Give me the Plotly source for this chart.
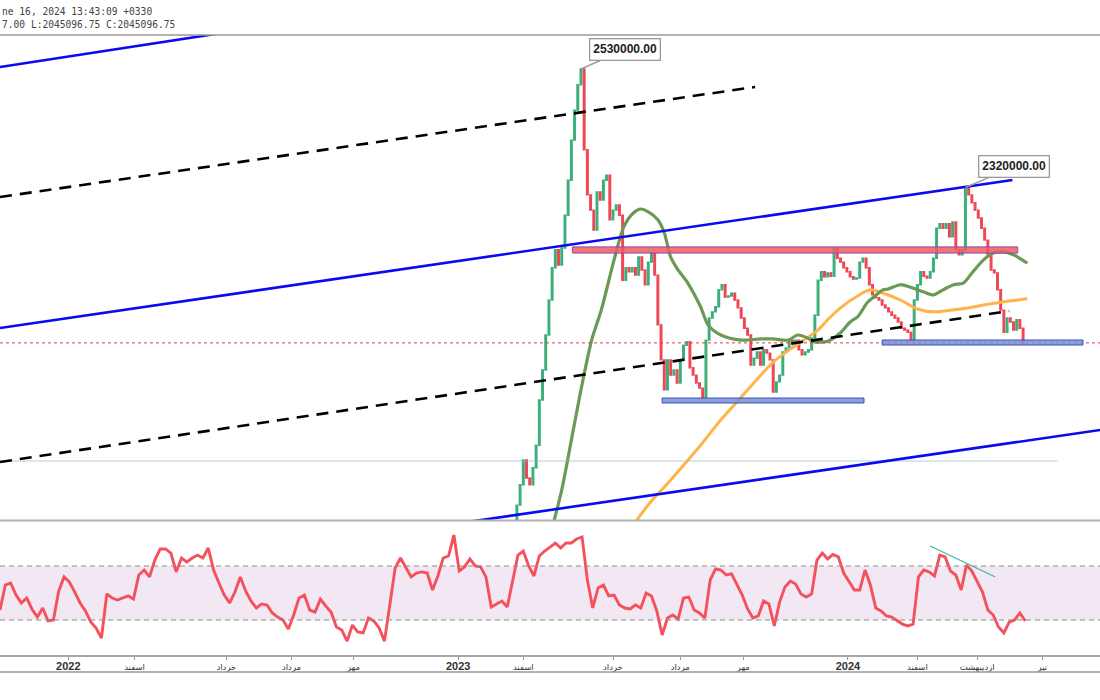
import pandas as pd
import plotly.graph_objects as go

# ---------------- data ----------------
candle_start = "2023-02-25"          # one bar every 3 days
first_open = 1720000
closes = [
    1758000, 1794000, 1838000, 1806000, 1794000, 1824000, 1864000, 1944000, 1997000, 2059000,
    2121000, 2178000, 2210000, 2183000, 2213000, 2271000, 2333000, 2404000, 2457000, 2502000,
    2530000, 2387000, 2307000, 2280000, 2245000, 2312000, 2298000, 2333000, 2342000, 2263000,
    2280000, 2289000, 2271000, 2156000, 2178000, 2171000, 2178000, 2165000, 2197000, 2174000,
    2148000, 2188000, 2204000, 2165000, 2077000, 2015000, 1962000, 2015000, 1988000, 1997000,
    1974000, 2015000, 2041000, 2047000, 2001000, 1988000, 1974000, 1965000, 1948000, 2050000,
    2089000, 2100000, 2109000, 2139000, 2148000, 2126000, 2128000, 2133000, 2121000, 2107000,
    2089000, 2071000, 2059000, 2006000, 2018000, 2029000, 2006000, 2033000, 2027000, 2015000,
    1958000, 1976000, 1988000, 2029000, 2036000, 2050000, 2047000, 2050000, 2033000, 2024000,
    2029000, 2033000, 2054000, 2094000, 2156000, 2171000, 2162000, 2169000, 2163000, 2213000,
    2195000, 2188000, 2178000, 2171000, 2162000, 2158000, 2160000, 2188000, 2195000, 2178000,
    2148000, 2130000, 2125000, 2121000, 2112000, 2107000, 2100000, 2094000, 2089000, 2082000,
    2071000, 2068000, 2064000, 2050000, 2121000, 2148000, 2171000, 2163000, 2160000, 2171000,
    2195000, 2248000, 2256000, 2248000, 2256000, 2233000, 2259000, 2210000, 2201000, 2210000,
    2320000, 2307000, 2293000, 2280000, 2266000, 2248000, 2227000, 2201000, 2174000, 2169000,
    2139000, 2103000, 2064000, 2089000, 2082000, 2068000, 2086000, 2071000, 2045096.75,
]

ma_green_dates = [
    "2023-03-27", "2023-04-08", "2023-04-17", "2023-04-26", "2023-05-06", "2023-05-15", "2023-05-27",
    "2023-06-05", "2023-06-14", "2023-06-21", "2023-06-28", "2023-07-07", "2023-07-13", "2023-07-19",
    "2023-07-26", "2023-08-04", "2023-08-16", "2023-08-23", "2023-09-04", "2023-09-23", "2023-10-11",
    "2023-10-23", "2023-11-06", "2023-11-15", "2023-11-24", "2023-11-30", "2023-12-13", "2023-12-25",
    "2024-01-03", "2024-01-10", "2024-01-19", "2024-01-25", "2024-02-03", "2024-02-07", "2024-02-19",
    "2024-02-28", "2024-03-12", "2024-03-21", "2024-03-30", "2024-04-09", "2024-04-18", "2024-04-27",
    "2024-05-07", "2024-05-16", "2024-05-25", "2024-06-04", "2024-06-17",
]
ma_green_vals = [
    1696000, 1785000, 1873000, 1962000, 2050000, 2103000, 2192000,
    2250000, 2275000, 2282000, 2277000, 2263000, 2240000, 2197000,
    2174000, 2151000, 2109000, 2077000, 2059000, 2050000, 2052000,
    2052000, 2050000, 2059000, 2054000, 2047000, 2048000, 2063000,
    2082000, 2091000, 2116000, 2126000, 2139000, 2140000, 2148000,
    2144000, 2135000, 2130000, 2139000, 2148000, 2151000, 2171000,
    2192000, 2204000, 2206000, 2201000, 2186000,
]

ma_orange_dates = [
    "2023-06-14", "2023-06-30", "2023-07-15", "2023-07-29", "2023-08-16", "2023-09-04", "2023-09-23",
    "2023-10-09", "2023-10-23", "2023-11-08", "2023-11-24", "2023-12-04", "2023-12-13", "2023-12-25",
    "2024-01-10", "2024-01-22", "2024-02-03", "2024-02-19", "2024-03-06", "2024-03-21", "2024-04-06",
    "2024-04-22", "2024-05-07", "2024-05-23", "2024-06-08", "2024-06-17",
]
ma_orange_vals = [
    1723000, 1763000, 1794000, 1824000, 1864000, 1909000, 1949000,
    1983000, 2011000, 2034000, 2054000, 2068000, 2086000, 2107000,
    2128000, 2139000, 2133000, 2121000, 2105000, 2100000, 2103000,
    2107000, 2112000, 2117000, 2121000, 2123000,
]

rsi_start = "2021-10-29"             # one value every 5 days
rsi_vals = [
    37.4, 55.9, 57.4, 48.5, 42.6, 46.3, 38.0, 32.2, 38.9, 29.3,
    30.0, 51.5, 61.9, 58.1, 50.7, 42.6, 36.7, 28.5, 24.1, 16.7,
    49.3, 46.3, 44.8, 46.3, 47.8, 45.5, 63.3, 67.0, 61.9, 74.4,
    82.6, 82.6, 79.6, 65.6, 75.9, 73.0, 75.9, 78.1, 75.9, 83.3,
    67.0, 57.4, 48.5, 42.6, 50.7, 61.9, 51.5, 44.1, 38.9, 41.9,
    41.1, 35.2, 32.2, 30.0, 23.3, 33.7, 46.3, 48.5, 37.4, 35.9,
    45.5, 40.4, 35.9, 24.8, 22.6, 14.4, 26.3, 21.1, 20.4, 31.5,
    29.3, 24.1, 14.4, 41.1, 68.5, 75.9, 68.5, 61.9, 64.8, 65.6,
    64.8, 52.2, 62.6, 75.9, 77.4, 92.9, 66.3, 69.3, 75.2, 70.0,
    69.3, 61.9, 39.6, 41.9, 44.1, 39.6, 59.6, 78.1, 81.1, 70.0,
    62.6, 77.4, 81.1, 84.1, 87.0, 83.3, 87.0, 87.0, 90.0, 91.5,
    59.6, 38.9, 53.7, 55.9, 47.8, 48.5, 41.1, 38.9, 38.2, 41.1,
    38.9, 50.0, 47.8, 36.7, 18.9, 31.5, 33.7, 30.7, 46.3, 47.0,
    37.4, 35.2, 31.5, 59.6, 67.8, 67.0, 63.3, 64.1, 55.9, 48.5,
    38.2, 31.5, 33.0, 44.1, 41.9, 25.6, 43.3, 54.4, 58.9, 56.7,
    49.3, 47.0, 49.3, 74.4, 79.6, 75.2, 78.5, 76.7, 64.8, 58.9,
    52.2, 52.2, 67.0, 55.9, 38.9, 36.7, 33.0, 32.2, 29.3, 27.0,
    25.6, 27.0, 61.9, 67.0, 65.6, 62.6, 78.1, 76.7, 66.3, 63.3,
    52.2, 70.7, 66.3, 58.1, 50.7, 37.4, 33.7, 24.8, 20.4, 28.5,
    30.0, 35.2, 29.3,
]
rsi_upper, rsi_lower = 70, 30

# channel drawing (blue solid lines)
blue_x0 = ["2021-10-29", "2021-10-29", "2021-10-29"]
blue_y0 = [2533400, 2071400, 1607700]
blue_x1 = ["2022-11-08", "2024-06-03", "2024-08-24"]
blue_y1 = [2642000, 2333400, 1890900]
# channel quarter lines (black dashed)
dash_x0 = ["2021-10-29", "2021-10-29"]
dash_y0 = [2303300, 1834300]
dash_x1 = ["2023-10-06", "2024-05-31"]
dash_y1 = [2498000, 2101500]
# horizontal level
level_price = 1836000
level_x0, level_x1 = "2021-10-29", "2024-07-15"
# zones
zone_x0 = ["2023-04-18", "2023-07-11", "2024-02-02"]
zone_x1 = ["2024-06-08", "2024-01-16", "2024-08-08"]
zone_lo = [2204000, 1938700, 2041300]
zone_hi = [2215000, 1947500, 2050200]
# RSI trend line
rsi_tl_x = ["2024-03-18", "2024-05-18"]
rsi_tl_y = [84.8, 61.9]
# peak labels
peak_dates = ["2023-04-26", "2024-04-20"]
peak_prices = [2530000, 2320000]
peak_labels = ["2530000.00", "2320000.00"]

tick_dates = ["2022-01-01", "2022-03-04", "2022-05-29", "2022-07-29", "2022-09-25",
              "2023-01-01", "2023-03-03", "2023-05-26", "2023-07-28", "2023-09-25",
              "2024-01-01", "2024-03-06", "2024-05-01", "2024-07-01"]
tick_labels = ["2022", "اسفند", "خرداد", "مرداد", "مهر",
               "2023", "اسفند", "خرداد", "مرداد", "مهر",
               "2024", "اسفند", "اردیبهشت", "تیر"]

header_line1 = "ne 16, 2024 13:43:09 +0330"
header_line2 = "7.00 L:2045096.75 C:2045096.75"

x_range = ["2021-10-29", "2024-08-24"]
price_range = [1731600, 2590000]
rsi_range = [4.1, 103.3]

# ---------------- build ----------------
dates = pd.date_range(candle_start, periods=len(closes), freq="3D")
opens = [first_open] + closes[:-1]
highs = [max(o, c) for o, c in zip(opens, closes)]
lows = [min(o, c) for o, c in zip(opens, closes)]
rsi_dates = pd.date_range(rsi_start, periods=len(rsi_vals), freq="5D")

GREEN = "#3dae7b"
RED = "#ef4754"

fig = go.Figure()
fig.add_trace(go.Candlestick(
    x=dates, open=opens, high=highs, low=lows, close=closes,
    increasing=dict(line=dict(color=GREEN, width=1.4), fillcolor=GREEN),
    decreasing=dict(line=dict(color=RED, width=1.4), fillcolor=RED),
    whiskerwidth=0, xaxis="x", yaxis="y", hoverinfo="skip"))
fig.add_trace(go.Scatter(x=ma_orange_dates, y=ma_orange_vals, mode="lines",
                         line=dict(color="#ffb44a", width=3, shape="spline", smoothing=0.8),
                         xaxis="x", yaxis="y", hoverinfo="skip"))
fig.add_trace(go.Scatter(x=ma_green_dates, y=ma_green_vals, mode="lines",
                         line=dict(color="#6b9a55", width=3.2, shape="spline", smoothing=0.8),
                         xaxis="x", yaxis="y", hoverinfo="skip"))
fig.add_trace(go.Scatter(x=rsi_dates, y=rsi_vals, mode="lines",
                         line=dict(color="#f4515c", width=2.9),
                         xaxis="x", yaxis="y2", hoverinfo="skip"))
fig.add_trace(go.Scatter(x=rsi_tl_x, y=rsi_tl_y, mode="lines",
                         line=dict(color="#3fb5a0", width=1.2),
                         xaxis="x", yaxis="y2", hoverinfo="skip"))

shapes = []
# RSI band and bounds
shapes.append(dict(type="rect", xref="paper", yref="y2", x0=0, x1=1, y0=rsi_lower, y1=rsi_upper,
                   fillcolor="rgba(175,115,180,0.16)", line_width=0, layer="below"))
for v in (rsi_upper, rsi_lower):
    shapes.append(dict(type="line", xref="paper", yref="y2", x0=0, x1=1, y0=v, y1=v,
                       line=dict(color="#8c8c8c", width=1, dash="5px,4px")))
# faint level
shapes.append(dict(type="line", xref="x", yref="y", x0=level_x0, x1=level_x1,
                   y0=level_price, y1=level_price, line=dict(color="rgba(150,185,195,0.7)", width=1)))
# last price dotted line
shapes.append(dict(type="line", xref="paper", yref="y", x0=0, x1=1, y0=closes[-1], y1=closes[-1],
                   line=dict(color="#f23645", width=1, dash="dot")))
# zones
zone_fill = ["rgba(242,90,98,0.85)", "rgba(120,145,210,0.85)", "rgba(120,145,210,0.85)"]
zone_line = ["#8a4fa8", "#3a50b8", "#3a50b8"]
for i in range(len(zone_x0)):
    shapes.append(dict(type="rect", xref="x", yref="y", x0=zone_x0[i], x1=zone_x1[i],
                       y0=zone_lo[i], y1=zone_hi[i], fillcolor=zone_fill[i],
                       line=dict(color=zone_line[i], width=1)))
# channel lines
for i in range(len(blue_x0)):
    shapes.append(dict(type="line", xref="x", yref="y", x0=blue_x0[i], y0=blue_y0[i],
                       x1=blue_x1[i], y1=blue_y1[i], line=dict(color="#0a0af0", width=2.6)))
for i in range(len(dash_x0)):
    shapes.append(dict(type="line", xref="x", yref="y", x0=dash_x0[i], y0=dash_y0[i],
                       x1=dash_x1[i], y1=dash_y1[i], line=dict(color="#000000", width=2.6, dash="12px,8px")))
# pane borders
for yp, col, w in [(0.95, "#9a9a9a", 1.5), (0.2564, "#b0b0b0", 2), (0.04, "#9a9a9a", 1.5)]:
    shapes.append(dict(type="line", xref="paper", yref="paper", x0=0, x1=1, y0=yp, y1=yp,
                       line=dict(color=col, width=w)))

annotations = []
offsets = [(44, -19), (49, -21)]
for d, p, t, (ax, ay) in zip(peak_dates, peak_prices, peak_labels, offsets):
    annotations.append(dict(x=d, y=p, xref="x", yref="y", text="<b>" + t + "</b>",
                            showarrow=True, arrowhead=0, arrowwidth=1.5, arrowcolor="#9a9a9a",
                            ax=ax, ay=ay, bgcolor="white", bordercolor="#9a9a9a", borderwidth=1.3,
                            borderpad=3, font=dict(family="Liberation Sans, Arial", size=12, color="#222")))
annotations.append(dict(x=0, y=1 - 12 / 700, xref="paper", yref="paper", text=header_line1,
                        showarrow=False, xanchor="left", yanchor="middle",
                        font=dict(family="DejaVu Sans Mono", size=9.6, color="#444")))
annotations.append(dict(x=0, y=1 - 25 / 700, xref="paper", yref="paper", text=header_line2,
                        showarrow=False, xanchor="left", yanchor="middle",
                        font=dict(family="DejaVu Sans Mono", size=9.6, color="#444")))

ticktext = []
for t in tick_labels:
    if t.isdigit():
        ticktext.append('<b><span style="font-size:11px">' + t + '</span></b>')
    else:
        ticktext.append(t)

fig.update_layout(
    width=1100, height=700, margin=dict(l=0, r=0, t=0, b=0),
    paper_bgcolor="white", plot_bgcolor="white", showlegend=False,
    shapes=shapes, annotations=annotations,
    xaxis=dict(domain=[0, 1], anchor="y2", type="date", range=x_range,
               tickvals=tick_dates, ticktext=ticktext, ticks="outside", ticklen=3,
               tickcolor="#999", showline=True, linecolor="#a8a8a8", linewidth=1.5,
               showgrid=False, zeroline=False, rangeslider=dict(visible=False),
               tickfont=dict(family="Liberation Sans, DejaVu Sans", size=8.5, color="#333")),
    yaxis=dict(domain=[1 - 520 / 700, 0.95], range=price_range, showgrid=False,
               showticklabels=False, zeroline=False, ticks=""),
    yaxis2=dict(domain=[1 - 655 / 700, 1 - 521 / 700], range=rsi_range, showgrid=False,
                showticklabels=False, zeroline=False, ticks=""),
)

fig.write_html("out.html")
